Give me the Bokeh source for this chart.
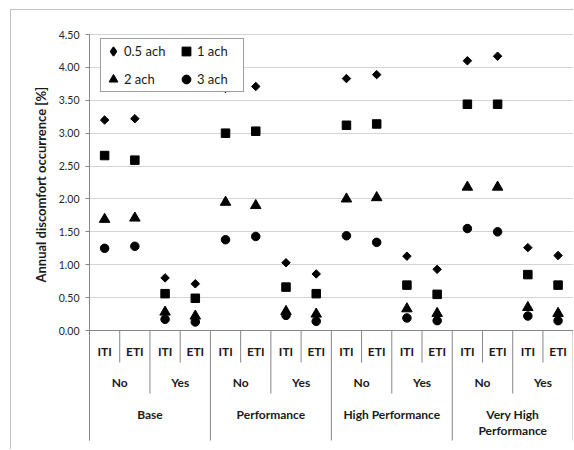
import math
import numpy as np
from bokeh.plotting import figure
from bokeh.models import (Range1d, FixedTicker, NumeralTickFormatter, Legend, LegendItem,
                          Span, Title)
from bokeh.core.properties import value
from bokeh.embed import file_html
from bokeh.resources import INLINE

# ---------------- data ----------------
groups = ["Base", "Performance", "High Performance", "Very High\nPerformance"]
shading = ["No", "Yes"]
insulation = ["ITI", "ETI"]
series_names = ["0.5 ach", "1 ach", "2 ach", "3 ach"]
y_title = "Annual discomfort occurrence [%]"

ach_05 = [3.20, 3.22, 0.80, 0.71, 3.68, 3.71, 1.03, 0.86, 3.83, 3.89, 1.13, 0.93, 4.10, 4.17, 1.26, 1.14]
ach_1 = [2.66, 2.59, 0.56, 0.49, 3.00, 3.03, 0.66, 0.56, 3.12, 3.14, 0.69, 0.55, 3.44, 3.44, 0.85, 0.69]
ach_2 = [1.69, 1.71, 0.28, 0.22, 1.95, 1.90, 0.29, 0.25, 2.00, 2.02, 0.33, 0.26, 2.18, 2.18, 0.35, 0.26]
ach_3 = [1.25, 1.28, 0.17, 0.13, 1.38, 1.43, 0.23, 0.14, 1.44, 1.34, 0.19, 0.15, 1.55, 1.50, 0.22, 0.15]

y_ticks = [0.0, 0.5, 1.0, 1.5, 2.0, 2.5, 3.0, 3.5, 4.0, 4.5]

# ---------------- layout helpers ----------------
FONT = "Lato"
PX = 65.78             # pixels per y unit
CAT_W = 30.23          # pixels per category
FRAME_W = 485
FRAME_H = 440
Y_TOP_PAD = 24         # px above 4.50
n_cat = len(groups) * len(shading) * len(insulation)
x_end = FRAME_W / CAT_W
y_start = 4.5 + Y_TOP_PAD / PX - FRAME_H / PX
y_end = 4.5 + Y_TOP_PAD / PX

def dy(px):
    return -px / PX

p = figure(width=563, height=440, output_backend="svg", toolbar_location=None,
           x_range=Range1d(0, x_end), y_range=Range1d(y_start, y_end),
           x_axis_type=None, min_border_left=78, min_border_right=0,
           min_border_top=0, min_border_bottom=0, margin=(9, 0, 0, 10),
           styles={"border-left": "1px solid #c0c0c0", "border-top": "1px solid #c0c0c0"})
p.outline_line_color = None
p.background_fill_color = "white"
p.border_fill_color = "white"

# y axis
ax = p.yaxis[0]
ax.ticker = FixedTicker(ticks=y_ticks)
ax.formatter = NumeralTickFormatter(format="0.00")
ax.bounds = (dy(110), 4.5)
ax.axis_line_color = "#868686"
ax.major_tick_line_color = "#868686"
ax.major_tick_out = 4
ax.major_tick_in = 0
ax.minor_tick_line_color = None
ax.major_label_standoff = 6
ax.major_label_text_font = FONT
ax.major_label_text_font_size = "10.5px"
ax.major_label_text_color = "#262626"

# axis title, centred on the value part of the axis (0 .. 4.5)
p.add_layout(Title(text=y_title, align="left", offset=168, standoff=14,
                   text_font=FONT, text_font_style="bold", text_font_size="13px",
                   text_color="#1a1a1a"), "left")

p.ygrid.ticker = FixedTicker(ticks=[t for t in y_ticks if t > 0])
p.ygrid.grid_line_color = "#a8a8a8"
p.ygrid.grid_line_dash = "1 1"
p.xgrid.visible = False

p.add_layout(Span(location=0, dimension="width", line_color="#868686", line_width=1))

# category separators (multi-level axis)
bx = np.arange(n_cat + 1)
depth = np.where(bx % 4 == 0, dy(110), np.where(bx % 2 == 0, dy(63), dy(32)))
p.segment(x0=bx, y0=np.zeros(len(bx)), x1=bx, y1=depth, line_color="#868686", line_width=1)

# category labels
xc = np.arange(n_cat) + 0.5
lvl1 = [ins for g in groups for s in shading for ins in insulation]
lvl2 = [s for g in groups for s in shading]
x2 = np.arange(len(lvl2)) * 2 + 1.0
x3 = np.arange(len(groups)) * 4 + 2.0
common = dict(text_font=value(FONT), text_font_style="bold", text_font_size="12px",
              text_color="#1a1a1a", text_align="center")
p.text(x=xc, y=[dy(21)] * n_cat, text=lvl1, text_baseline="middle", **common)
p.text(x=x2, y=[dy(52)] * len(lvl2), text=lvl2, text_baseline="middle", **common)
p.text(x=x3, y=[dy(76)] * len(groups), text=groups, text_baseline="top",
       text_line_height=1.1, **common)

# data series
r05 = p.scatter(xc, ach_05, marker="square", angle=math.pi / 4, size=6, color="black")
r1 = p.scatter(xc, ach_1, marker="square", size=8.5, color="black")
r2 = p.scatter(xc, ach_2, marker="triangle", size=10.5, color="black")
r3 = p.scatter(xc, ach_3, marker="circle", size=8.5, color="black")
# legend proxy for the diamond series (legend glyphs are drawn unrotated)
r05_leg = p.scatter(xc, ach_05, marker="diamond", size=8.5, color="black", line_width=1.5)
r05_leg.visible = False

legend = Legend(items=[LegendItem(label=series_names[0], renderers=[r05_leg]),
                       LegendItem(label=series_names[1], renderers=[r1]),
                       LegendItem(label=series_names[2], renderers=[r2]),
                       LegendItem(label=series_names[3], renderers=[r3])],
                orientation="horizontal", ncols=2, location=(11, 358),
                label_text_font=FONT, label_text_font_size="13px", label_text_color="#1a1a1a",
                glyph_width=22, glyph_height=22, label_height=22, label_width=45,
                label_standoff=-4, spacing=6, padding=1, margin=0,
                border_line_color="#404040", border_line_width=1,
                background_fill_color="white", background_fill_alpha=1.0)
p.add_layout(legend)

open("out.html", "w").write(file_html(p, INLINE))
